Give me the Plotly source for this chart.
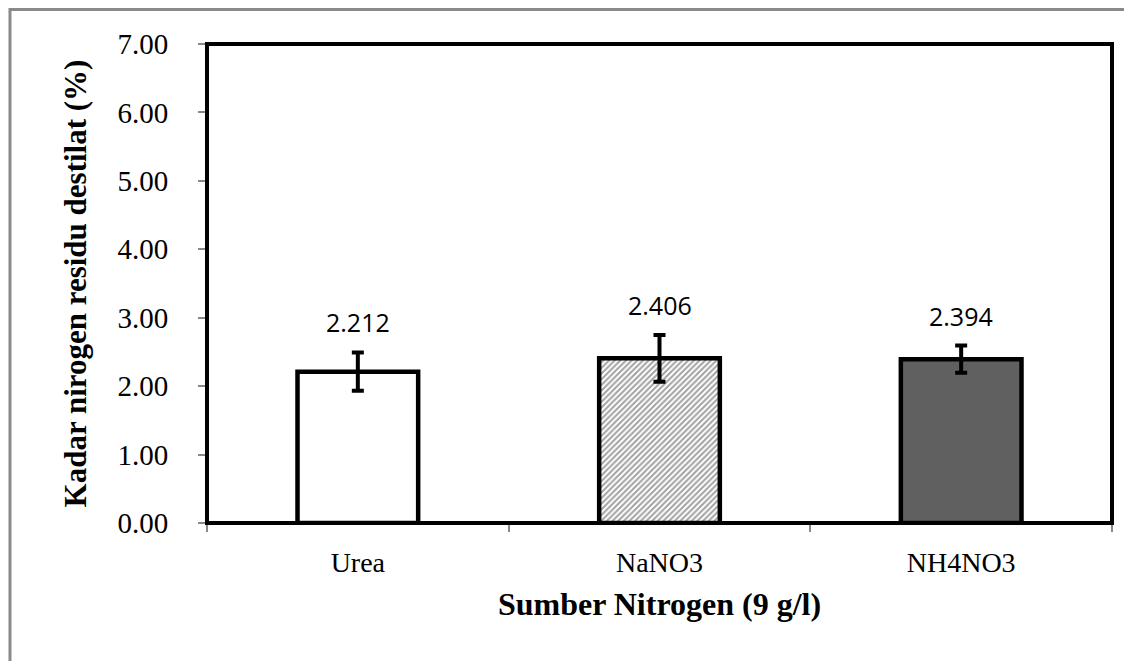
import plotly.graph_objects as go

categories = ["Urea", "NaNO3", "NH4NO3"]
values = [2.212, 2.406, 2.394]
errors = [0.28, 0.34, 0.20]
value_labels = ["2.212", "2.406", "2.394"]
y_ticks = [0, 1, 2, 3, 4, 5, 6, 7]
y_tick_labels = ["0.00", "1.00", "2.00", "3.00", "4.00", "5.00", "6.00", "7.00"]

fills = ["white", "white", "#606060"]
patterns = ["", "/", ""]

SERIF = "Liberation Serif, Times New Roman, serif"

fig = go.Figure()
fig.add_trace(go.Bar(
    x=categories, y=values, width=0.4,
    marker=dict(color=fills, line=dict(color="black", width=4.5),
                pattern=dict(shape=patterns, fgcolor="black", bgcolor="white",
                             size=4, solidity=0.5)),
    error_y=dict(type="data", array=errors, visible=True, color="black",
                 thickness=4, width=6),
    showlegend=False,
))

for c, v, e, t in zip(categories, values, errors, value_labels):
    fig.add_annotation(x=c, y=v + e, text=t, showarrow=False, yshift=30,
                       font=dict(family="Open Sans, Noto Sans, sans-serif", size=25, color="black"))

fig.update_layout(
    width=1124, height=653,
    margin=dict(l=199, r=20, t=36, b=138),
    paper_bgcolor="white", plot_bgcolor="white",
    xaxis=dict(showline=True, linecolor="#888888", linewidth=2,
               ticks="outside", tickson="boundaries", tickcolor="#888888",
               ticklen=7, tickwidth=2, ticklabelstandoff=13,
               tickfont=dict(family=SERIF, size=28, color="black"),
               title=dict(text="<b>Sumber Nitrogen (9 g/l)</b>", standoff=16,
                          font=dict(family=SERIF, size=32, color="black"))),
    yaxis=dict(range=[0, 7], tickvals=y_ticks, ticktext=y_tick_labels,
               showline=True, linecolor="#888888", linewidth=2,
               ticks="outside", tickcolor="#888888", ticklen=7, tickwidth=2,
               ticklabelstandoff=24,
               showgrid=False, zeroline=False,
               tickfont=dict(family=SERIF, size=29, color="black"),
               title=dict(text="<b>Kadar nirogen residu destilat (%)</b>", standoff=22,
                          font=dict(family=SERIF, size=31, color="black"))),
)

# thick black frame around plot area
fig.add_shape(type="rect", xref="paper", yref="paper", x0=0, x1=1, y0=0, y1=1,
              line=dict(color="black", width=4), layer="above")
# outer gray chart border
fig.add_shape(type="rect", xref="paper", yref="paper", x0=-0.2177, x1=1.2, y0=-0.4, y1=1.072,
              line=dict(color="#8a8a8a", width=3), layer="below")

fig.write_html("out.html")
